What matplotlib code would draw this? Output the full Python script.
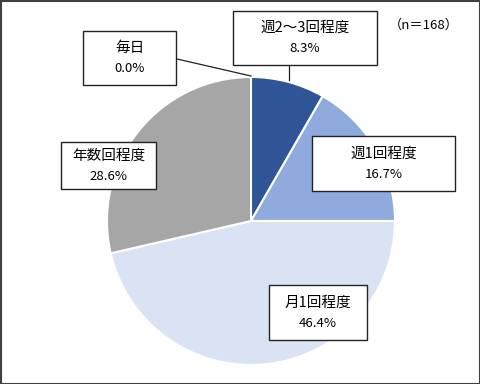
import matplotlib
matplotlib.use("Agg")
import matplotlib.pyplot as plt
from matplotlib.patches import Rectangle

plt.rcParams['font.family'] = ['Noto Sans CJK JP', 'DejaVu Sans']

# data (clockwise from 12 o'clock)
labels = ['毎日', '週2～3回程度', '週1回程度', '月1回程度', '年数回程度']
values = [0.0, 8.3, 16.7, 46.4, 28.6]
colors = ['#1F3864', '#2F5597', '#8FAADC', '#DAE3F3', '#A6A6A6']
n_total = 168

fig = plt.figure(figsize=(4.8, 3.84), dpi=100)
ax = fig.add_axes([0, 0, 1, 1])

# pie centre in pixel coords (y measured from bottom)
cx, cy, r = 251, 384 - 221, 144
wedges, _ = ax.pie(values, colors=colors, startangle=90, counterclock=False,
                   center=(cx, cy), radius=r, frame=True,
                   wedgeprops=dict(edgecolor='white', linewidth=1.5))
ax.set_xlim(0, 480)
ax.set_ylim(0, 384)
ax.set_aspect('equal')
ax.axis('off')

# label boxes: (x0, y0_top, x1, y1_bottom) in image pixels
boxes = [(83, 31, 176, 85), (233, 11, 377, 65), (312, 136, 455, 191),
         (269, 285, 367, 340), (61, 142, 156, 189)]
for lab, val, (x0, y0, x1, y1) in zip(labels, values, boxes):
    ax.add_patch(Rectangle((x0, 384 - y1), x1 - x0, y1 - y0, facecolor='white',
                           edgecolor='#222222', linewidth=1.0, zorder=5))
    xm = (x0 + x1) / 2
    ym = 384 - (y0 + y1) / 2
    ax.text(xm, ym + 10, lab, ha='center', va='center', fontsize=10.5, zorder=6)
    ax.text(xm, ym - 11, f'{val:.1f}%', ha='center', va='center', fontsize=9.5, zorder=6)

# leader lines
ax.plot([177, 251], [384 - 59, 384 - 76], color='#222222', lw=0.9, zorder=4)
ax.plot([289, 289], [384 - 65, 384 - 80], color='#222222', lw=0.9, zorder=4)

ax.text(424, 384 - 25, f'（n＝{n_total}）', ha='center', va='center', fontsize=9.5)

# outer frame
ax.add_patch(Rectangle((0.5, 0.5), 479, 383, facecolor='none', edgecolor='#404040',
                       linewidth=1.5, zorder=10))

fig.savefig('out.png', dpi=100)
